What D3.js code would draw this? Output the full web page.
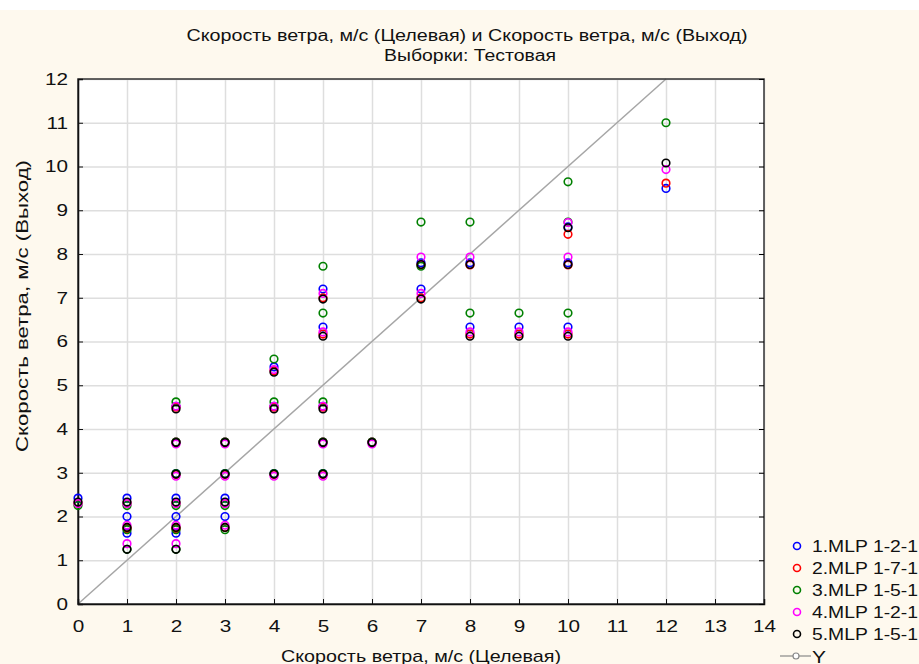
<!DOCTYPE html>
<html lang="ru">
<head>
<meta charset="utf-8">
<title>Скорость ветра</title>
<script src="https://cdn.jsdelivr.net/npm/d3@7"></script>
<style>
  body { margin: 0; background: #fef9ee; }
  svg { display: block; }
  text { font-family: "Liberation Sans", Arial, sans-serif; fill: #111; }
  .grid line { stroke: #dedede; stroke-width: 1.5; }
</style>
</head>
<body>
<script>
// target value of every test sample
var target = [0, 1, 1, 1, 2, 2, 2, 2, 2, 2, 3, 3, 3, 3, 4, 4, 4, 5, 5, 5, 5, 5, 6, 7, 7, 8, 8, 9, 10, 10, 10, 12]

// network outputs, same sample order
var mlp1 = [2.42, 2.42, 2.00, 1.62, 4.52, 3.70, 2.98, 2.42, 2.00, 1.62, 3.70, 2.98, 2.42, 2.00, 5.42, 4.52, 2.98, 7.20, 6.33, 4.52, 3.70, 2.98, 3.70, 7.80, 7.20, 7.80, 6.33, 6.33, 8.62, 7.80, 6.33, 9.50]
var mlp2 = [2.30, 2.30, 1.75, 1.72, 4.50, 3.70, 2.96, 2.30, 1.75, 1.72, 3.70, 2.96, 2.30, 1.75, 5.33, 4.50, 2.96, 7.00, 6.17, 4.50, 3.70, 2.96, 3.70, 7.75, 7.00, 7.75, 6.17, 6.17, 8.45, 7.75, 6.17, 9.62]
var mlp3 = [2.25, 2.25, 1.70, 1.25, 4.62, 3.70, 2.98, 2.25, 1.70, 1.25, 3.70, 2.98, 2.25, 1.70, 5.60, 4.62, 2.98, 7.72, 6.65, 4.62, 3.70, 2.98, 3.70, 8.73, 7.72, 8.73, 6.65, 6.65, 9.65, 8.73, 6.65, 11.00]
var mlp4 = [2.30, 2.30, 1.80, 1.38, 4.52, 3.66, 2.92, 2.30, 1.80, 1.38, 3.66, 2.92, 2.30, 1.80, 5.36, 4.52, 2.92, 7.10, 6.22, 4.52, 3.66, 2.92, 3.66, 7.93, 7.10, 7.93, 6.22, 6.22, 8.72, 7.93, 6.22, 9.93]
var mlp5 = [2.33, 2.33, 1.75, 1.25, 4.46, 3.69, 2.97, 2.33, 1.75, 1.25, 3.69, 2.97, 2.33, 1.75, 5.30, 4.46, 2.97, 6.97, 6.12, 4.46, 3.69, 2.97, 3.69, 7.76, 6.97, 7.76, 6.12, 6.12, 8.60, 7.76, 6.12, 10.08]

var seriesNames = ["1.MLP 1-2-1", "2.MLP 1-7-1", "3.MLP 1-5-1", "4.MLP 1-2-1", "5.MLP 1-5-1"]
var seriesColors = ["#0000ff", "#ff0000", "#008000", "#ff00ff", "#000000"]
var seriesValues = [mlp1, mlp2, mlp3, mlp4, mlp5]

var xTicks = d3.range(0, 15)
var yTicks = d3.range(0, 13)
var identity = [0, 12]

var w = 919, h = 664

var svg = d3.select("body").append("svg")
    .attr("width", w)
    .attr("height", h)

// white strip on top
svg.append("rect").attr("x", 0).attr("y", 0).attr("width", w).attr("height", 10).attr("fill", "#ffffff")

var pLeft = 78, pRight = 764, pTop = 79, pBottom = 604

var xScale = d3.scaleLinear().domain([0, 14]).range([pLeft, pRight])
var yScale = d3.scaleLinear().domain([0, 12]).range([pBottom, pTop])

svg.append("rect")
    .attr("x", pLeft).attr("y", pTop)
    .attr("width", pRight - pLeft).attr("height", pBottom - pTop)
    .attr("fill", "#ffffff")

// grid
svg.append("g").attr("class", "grid")
    .attr("transform", "translate(0," + pBottom + ")")
    .call(d3.axisBottom(xScale).tickValues(xTicks).tickSize(-(pBottom - pTop)).tickFormat(""))
    .call(function(g){ g.select(".domain").remove() })

svg.append("g").attr("class", "grid")
    .attr("transform", "translate(" + pLeft + ",0)")
    .call(d3.axisLeft(yScale).tickValues(yTicks).tickSize(-(pRight - pLeft)).tickFormat(""))
    .call(function(g){ g.select(".domain").remove() })

// identity line
svg.append("line")
    .attr("x1", xScale(identity[0])).attr("y1", yScale(identity[0]))
    .attr("x2", xScale(identity[1])).attr("y2", yScale(identity[1]))
    .attr("stroke", "#a6a6a6").attr("stroke-width", 1.5)

// frame
svg.append("rect")
    .attr("x", pLeft).attr("y", pTop)
    .attr("width", pRight - pLeft).attr("height", pBottom - pTop)
    .attr("fill", "none").attr("stroke", "#333").attr("stroke-width", 1.5)

// axes
var xAxis = svg.append("g")
    .attr("transform", "translate(0," + pBottom + ")")
    .call(d3.axisBottom(xScale).tickValues(xTicks).tickSize(-5).tickPadding(16))
var yAxis = svg.append("g")
    .attr("transform", "translate(" + pLeft + ",0)")
    .call(d3.axisLeft(yScale).tickValues(yTicks).tickSize(-5).tickPadding(10))
svg.append("g")
    .attr("transform", "translate(" + pRight + ",0)")
    .call(d3.axisRight(yScale).tickValues(yTicks).tickSize(-5).tickFormat(""))
    .select(".domain").remove()

;[xAxis, yAxis].forEach(function(a){
  a.select(".domain").attr("stroke", "#111").attr("stroke-width", 1.5)
  a.selectAll(".tick line").attr("stroke", "#111")
  a.selectAll("text").style("font-size", "17px").attr("fill", "#111")
    .style("font-family", "'Liberation Sans', Arial, sans-serif")
})
// labels in the reference look a little wider
xAxis.selectAll(".tick text").attr("transform", function(){
  var y = +d3.select(this).attr("y")
  return "translate(0," + y + ") scale(1.22,1) translate(0," + (-y) + ")"
})
yAxis.selectAll(".tick text").attr("transform", function(){
  var x = +d3.select(this).attr("x")
  return "translate(" + x + ",0) scale(1.22,1) translate(" + (-x) + ",0)"
})

// points
seriesValues.forEach(function(vals, si){
  svg.append("g").selectAll("circle")
    .data(vals)
    .enter()
    .append("circle")
    .attr("cx", function(d, i){ return xScale(target[i]) })
    .attr("cy", function(d){ return yScale(d) })
    .attr("r", 3.8)
    .attr("fill", "none")
    .attr("stroke", seriesColors[si])
    .attr("stroke-width", 1.6)
})

function stretched(x, y, size, len, str, anchor){
  return svg.append("text").attr("x", x).attr("y", y)
    .attr("text-anchor", anchor || "middle")
    .attr("textLength", len).attr("lengthAdjust", "spacingAndGlyphs")
    .style("font-size", size + "px").text(str)
}

// titles
stretched(467, 41, 16, 561, "Скорость ветра, м/с (Целевая) и Скорость ветра, м/с (Выход)")
stretched(470, 61, 16, 172, "Выборки: Тестовая")
stretched(421, 662, 17, 280, "Скорость ветра, м/с (Целевая)")
svg.append("text")
    .attr("transform", "translate(28,306) rotate(-90)")
    .attr("text-anchor", "middle")
    .attr("textLength", 292).attr("lengthAdjust", "spacingAndGlyphs")
    .style("font-size", "17px").text("Скорость ветра, м/с (Выход)")

// legend
var legend = svg.append("g")
seriesNames.forEach(function(name, i){
  var y = 546 + i * 22
  legend.append("circle").attr("cx", 797).attr("cy", y).attr("r", 3.5)
      .attr("fill", "none").attr("stroke", seriesColors[i]).attr("stroke-width", 1.6)
  stretched(812, y + 6, 17, 106, name, "start")
})
legend.append("line").attr("x1", 780).attr("x2", 811).attr("y1", 656).attr("y2", 656)
    .attr("stroke", "#888").attr("stroke-width", 1.2)
legend.append("circle").attr("cx", 796).attr("cy", 656).attr("r", 3)
    .attr("fill", "#fff").attr("stroke", "#888").attr("stroke-width", 1.2)
stretched(812, 663, 17, 14, "Y", "start")
</script>
</body>
</html>
